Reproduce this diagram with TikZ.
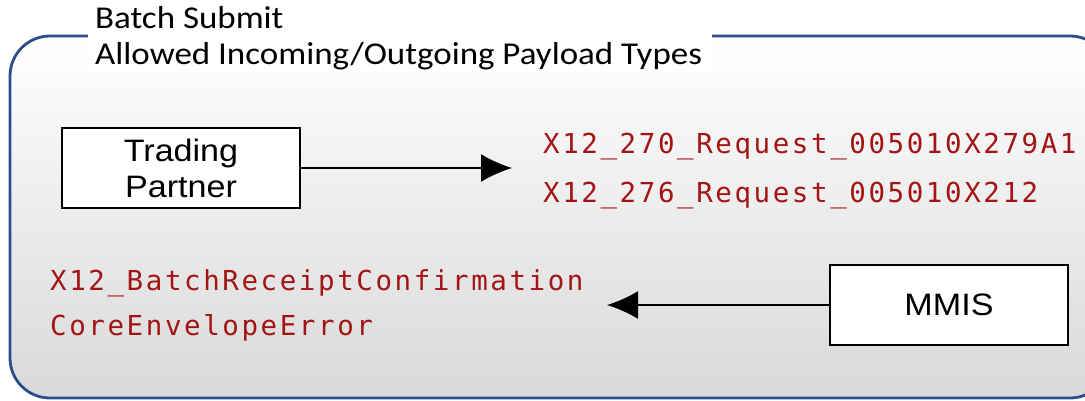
\documentclass[tikz,border=0pt]{standalone}
\usepackage{fontspec}
\setmainfont{Carlito}[FakeStretch=1.1]
\newfontfamily\boxfont{Liberation Sans}[FakeStretch=1.1]
\newfontfamily\payloadfont{DejaVu Sans Mono}[LetterSpace=9.4]
\usetikzlibrary{arrows.meta,positioning}
\definecolor{frameblue}{RGB}{42,78,138}
\definecolor{payloadred}{RGB}{163,21,21}

\tikzset{
  partybox/.style={draw, line width=1.4pt, fill=white, minimum width=238pt, minimum height=80pt,
    font=\boxfont\fontsize{31}{36}\selectfont, align=center, inner sep=0pt},
  payload/.style={anchor=base west, text=payloadred, inner sep=0pt,
    font=\payloadfont\fontsize{27.5}{30}\selectfont},
  heading/.style={anchor=base west, inner sep=0pt, font=\fontsize{31.8}{36}\selectfont},
  flow/.style={-{Latex[length=31pt,width=28pt]}, line width=1.5pt}
}

\begin{document}
\begin{tikzpicture}[x=1pt,y=-1pt]
  \useasboundingbox (0,0) rectangle (1085,400);
  % frame of the batch
  \begin{scope}
    \clip (0,0) rectangle (1085,400);
    \shadedraw[top color=white, bottom color=black!15, draw=frameblue, line width=2.8pt,
      rounded corners=40pt] (10,36) rectangle (1110,398);
  \end{scope}
  \fill[white] (88,0) rectangle (712,72);
  \node[heading] (title) at (95,28) {Batch Submit};
  \node[heading] (types) at (95,64) {Allowed Incoming/Outgoing Payload Types};

  % parties
  \node[partybox] (partner) at (181,168) {Trading\\Partner};
  \node[partybox] (mmis) at (949,305) {MMIS};

  % payloads
  \node[payload] (req270) at (543,153) {X12\_270\_Request\_005010X279A1};
  \node[payload] (req276) at (543,202) {X12\_276\_Request\_005010X212};
  \node[payload] (receipt) at (50,290) {X12\_BatchReceiptConfirmation};
  \node[payload] (envelope) at (50,335) {CoreEnvelopeError};

  % flows
  \coordinate (intip) at (512,168);
  \coordinate (outtip) at (607,305);
  \draw[flow] (partner.east) -- (intip);
  \draw[flow] (mmis.west) -- (outtip);
\end{tikzpicture}
\end{document}
